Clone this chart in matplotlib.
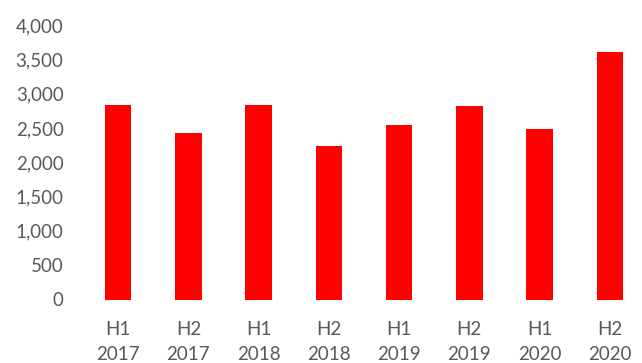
import matplotlib.pyplot as plt

halves = ['H1', 'H2', 'H1', 'H2', 'H1', 'H2', 'H1', 'H2']
years = ['2017', '2017', '2018', '2018', '2019', '2019', '2020', '2020']
values = [2840, 2420, 2840, 2240, 2550, 2820, 2480, 3605]

labels = [f'{h}\n{y}' for h, y in zip(halves, years)]
grey = '#595959'

plt.rcParams['font.family'] = ['Lato', 'DejaVu Sans']

fig = plt.figure(figsize=(6.42, 3.63), dpi=100)
ax = fig.add_axes([83 / 642, 63.5 / 363, 562 / 642, 274.5 / 363])

ax.bar(range(len(values)), values, width=0.38, color='#ff0000')

ax.set_xlim(-0.5, 7.5)
ax.set_ylim(0, 4000)
ax.set_yticks(range(0, 4001, 500))
ax.set_yticklabels([f'{v:,}' for v in range(0, 4001, 500)])
ax.set_xticks(range(len(values)))
ax.set_xticklabels(labels, linespacing=1.6)

ax.tick_params(axis='y', length=0, pad=14, labelsize=13.5, labelcolor=grey)
ax.tick_params(axis='x', length=0, pad=15.5, labelsize=13.5, labelcolor=grey)
for s in ax.spines.values():
    s.set_visible(False)

fig.savefig('out.png', dpi=100)
